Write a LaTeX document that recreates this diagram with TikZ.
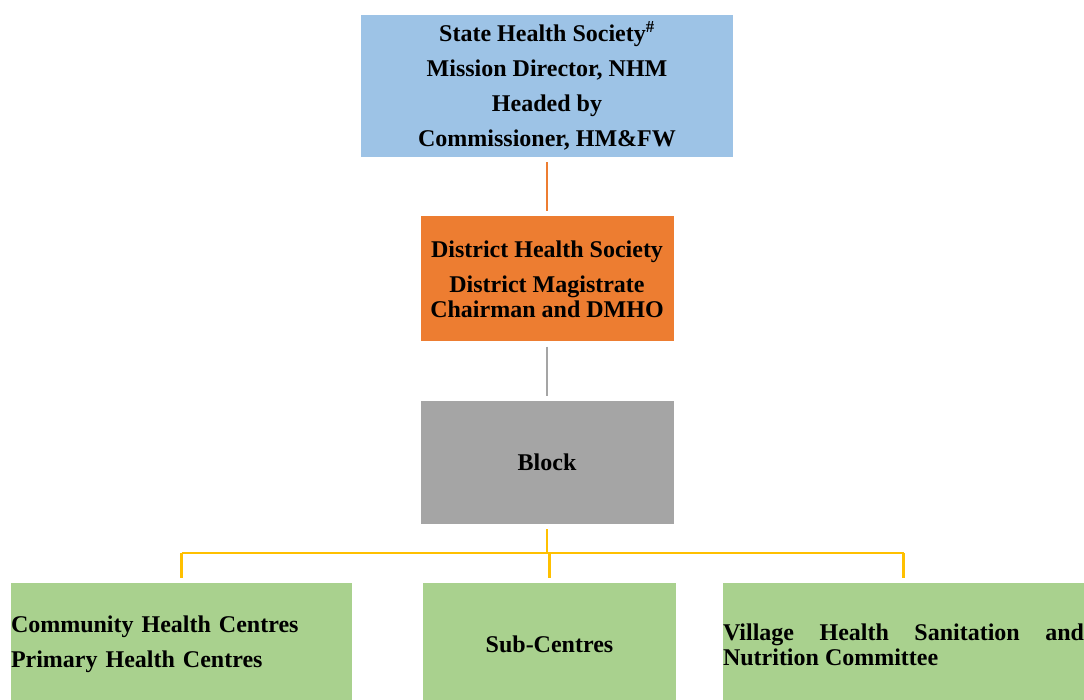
\documentclass[tikz,border=0pt]{standalone}
\usepackage{fontspec}
\setmainfont{Liberation Serif}
\usepackage{tikz}
\usetikzlibrary{positioning}
\usetikzlibrary{calc}

\definecolor{stateblue}{HTML}{9DC3E6}
\definecolor{distorange}{HTML}{ED7D31}
\definecolor{blockgray}{HTML}{A5A5A5}
\definecolor{linkyellow}{HTML}{FFC000}
\definecolor{unitgreen}{HTML}{A9D18E}

\tikzset{
	orgbox/.style = {rectangle, inner sep = 0pt, align = center,
		font = \fontsize{24}{25}\selectfont\bfseries},
	unitbox/.style = {orgbox, fill = unitgreen, minimum height = 123pt},
	link/.style = {line width = 2.5pt, shorten < = 5pt, shorten > = 5pt}
}

\begin{document}
\begin{tikzpicture}[x = 1pt, y = 1pt]
		\useasboundingbox (0,0) rectangle (1084,-700);

		\node[orgbox, fill = stateblue, minimum width = 372pt, minimum height = 142pt] at (547,-86) (state)
		{State Health Society\textsuperscript{\#}\\[10pt] Mission Director, NHM\\[10pt] Headed by\\[10pt] Commissioner, HM\&FW};
		\node[below = 59pt of state, orgbox, fill = distorange, minimum width = 253pt, minimum height = 125pt] (district)
		{District Health Society\\[10pt] District Magistrate\\ Chairman and DMHO};
		\node[below = 59pt of district, orgbox, fill = blockgray, minimum width = 253pt, minimum height = 123pt] (block)
		{Block};

		\node[unitbox, text width = 341pt, align = left] at (181.5,-644.5) (chc)
		{Community Health Centres\\[10pt] Primary Health Centres};
		\node[unitbox, text width = 253pt] at (549.5,-644.5) (subc)
		{Sub-Centres};
		\node[unitbox, text width = 361pt, align = justify] at (903.5,-644.5) (vhsnc)
		{Village Health Sanitation and \mbox{Nutrition} Committee};

		\coordinate (bus) at ($ (block.south) + (0,-29) $);

		\draw[link, distorange] (state) to (district);
		\draw[link, blockgray] (district) to (block);
		\draw[link, linkyellow, shorten > = 0pt] (block) to (bus);
		\draw[linkyellow, line width = 2.5pt] (bus -| chc.north) to (bus -| vhsnc.north);
		\draw[linkyellow, line width = 2.5pt, shorten > = 5pt] (bus -| chc.north) to (chc.north);
		\draw[linkyellow, line width = 2.5pt, shorten > = 5pt] (bus -| subc.north) to (subc.north);
		\draw[linkyellow, line width = 2.5pt, shorten > = 5pt] (bus -| vhsnc.north) to (vhsnc.north);
	\end{tikzpicture}
\end{document}
